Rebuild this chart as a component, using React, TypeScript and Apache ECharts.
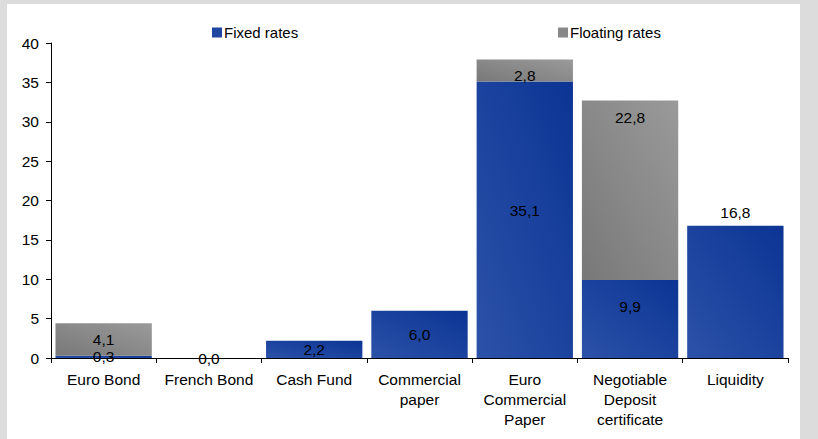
import React, { useEffect, useRef } from "react";
import * as echarts from "echarts";

const categories = [
  "Euro Bond",
  "French Bond",
  "Cash Fund",
  "Commercial\npaper",
  "Euro\nCommercial\nPaper",
  "Negotiable\nDeposit\ncertificate",
  "Liquidity",
];
const fixedRates = [0.3, 0.0, 2.2, 6.0, 35.1, 9.9, 16.8];
const floatingRates = [4.1, 0, 0, 0, 2.8, 22.8, 0];
const yTicks = [0, 5, 10, 15, 20, 25, 30, 35, 40];

// label placement tweaks (style only)
const fixedLabelOffsets: Record<number, number[]> = { 4: [0, -9], 5: [0, -13] };
const fixedLabelTop: Record<number, boolean> = { 6: true };
const floatLabelOffsets: Record<number, number[]> = { 4: [0, 5] };
const floatLabelInsideTop: Record<number, boolean> = { 5: true };

const fmt = (v: number) => v.toFixed(1).replace(".", ",");

export default function App() {
  const ref = useRef<HTMLDivElement>(null);
  useEffect(() => {
    if (!ref.current) return;
    const chart = echarts.init(ref.current, undefined, { renderer: "svg" });
    const blue = new echarts.graphic.LinearGradient(0, 1, 1, 0, [
      { offset: 0, color: "#2c52a8" },
      { offset: 1, color: "#0b3494" },
    ]);
    const gray = new echarts.graphic.LinearGradient(0, 1, 1, 0, [
      { offset: 0, color: "#787878" },
      { offset: 1, color: "#9a9a9a" },
    ]);
    const font = "'Liberation Sans', Arial, sans-serif";
    const fixedData = fixedRates.map((v, i) => ({
      value: v,
      label: {
        position: fixedLabelTop[i] ? "top" : "inside",
        offset: fixedLabelOffsets[i] || [0, 0],
      },
    }));
    const floatData = floatingRates.map((v, i) => ({
      value: v,
      label: {
        position: floatLabelInsideTop[i] ? "insideTop" : "inside",
        distance: floatLabelInsideTop[i] ? 9 : 5,
        offset: floatLabelOffsets[i] || [0, 0],
      },
    }));
    const legendText = { fontSize: 15, color: "#000", fontFamily: font, padding: [0, 0, 0, -3] };
    chart.setOption({
      animation: false,
      backgroundColor: "#ffffff",
      textStyle: { fontFamily: font },
      legend: [
        {
          data: [{ name: "Fixed rates", itemStyle: { color: "#1f45a0" } }],
          left: 200,
          top: 16,
          icon: "rect",
          itemWidth: 10,
          itemHeight: 10,
          itemGap: 2,
          textStyle: legendText,
        },
        {
          data: [{ name: "Floating rates", itemStyle: { color: "#888888" } }],
          left: 546,
          top: 16,
          icon: "rect",
          itemWidth: 10,
          itemHeight: 10,
          itemGap: 2,
          textStyle: legendText,
        },
      ],
      grid: { left: 44, right: 12, top: 39, bottom: 81, containLabel: false },
      xAxis: {
        type: "category",
        data: categories,
        axisLine: { lineStyle: { color: "#000", width: 1 } },
        axisTick: { show: true, length: 5, lineStyle: { color: "#000" } },
        axisLabel: {
          interval: 0,
          color: "#000",
          fontSize: 15.5,
          lineHeight: 20,
          margin: 11,
          fontFamily: font,
        },
      },
      yAxis: {
        type: "value",
        min: 0,
        max: 40,
        interval: 5,
        splitLine: { show: false },
        axisLine: { show: true, lineStyle: { color: "#000", width: 1 } },
        axisTick: { show: true, length: 5, lineStyle: { color: "#000" } },
        axisLabel: {
          color: "#000",
          fontSize: 15.5,
          margin: 12,
          fontFamily: font,
          formatter: (v: number) => (yTicks.includes(v) ? String(v) : ""),
        },
      },
      series: [
        {
          name: "Fixed rates",
          type: "bar",
          stack: "total",
          barCategoryGap: "8.5%",
          data: fixedData,
          itemStyle: { color: blue },
          label: {
            show: true,
            color: "#000",
            fontSize: 15.5,
            fontFamily: font,
            formatter: (p: any) => fmt(p.value),
          },
        },
        {
          name: "Floating rates",
          type: "bar",
          stack: "total",
          barCategoryGap: "8.5%",
          data: floatData,
          itemStyle: { color: gray },
          label: {
            show: true,
            color: "#000",
            fontSize: 15.5,
            fontFamily: font,
            formatter: (p: any) => (p.value ? fmt(p.value) : ""),
          },
        },
      ],
    });
    return () => chart.dispose();
  }, []);
  return (
    <div
      style={{
        position: "fixed",
        left: 0,
        top: 0,
        width: 818,
        height: 439,
        background: "#dcdcdc",
      }}
    >
      <div
        ref={ref}
        style={{ position: "absolute", left: 7, top: 4, width: 793, height: 435 }}
      />
    </div>
  );
}
